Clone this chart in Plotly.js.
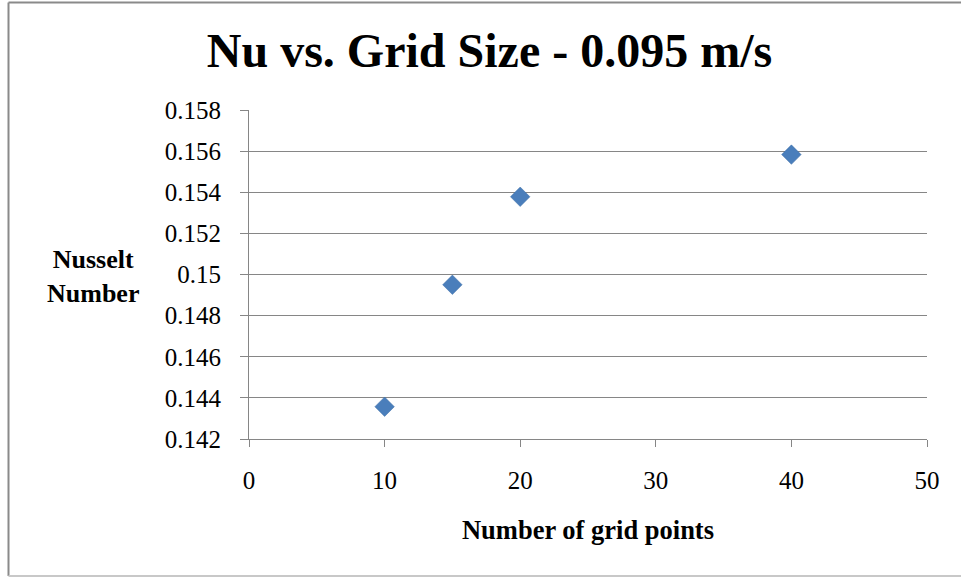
<!DOCTYPE html>
<html>
<head>
<meta charset="utf-8">
<script src="https://cdn.plot.ly/plotly-3.0.1.min.js"></script>
<style>html,body{margin:0;padding:0;background:#fff;}#chart{width:961px;height:577px;}</style>
</head>
<body>
<div id="chart"></div>
<script>
const gridPoints = [10, 15, 20, 40];
const nusselt = [0.14357, 0.14950, 0.15378, 0.15583];
const yTicks = [0.142, 0.144, 0.146, 0.148, 0.15, 0.152, 0.154, 0.156, 0.158];
const yTickText = ['0.142', '0.144', '0.146', '0.148', '0.15', '0.152', '0.154', '0.156', '0.158'];
const xTicks = [0, 10, 20, 30, 40, 50];
const chartTitle = 'Nu vs. Grid Size - 0.095 m/s';
const xTitle = 'Number of grid points';
const yTitle = 'Nusselt<br>Number';

const serif = 'Liberation Serif';
const axisGray = '#868686';

const trace = {
  x: gridPoints, y: nusselt, type: 'scatter', mode: 'markers',
  marker: {symbol: 'diamond', size: 15, color: '#4A7EBB', line: {color: '#3F6FA6', width: 0.5}},
  showlegend: false, hoverinfo: 'x+y'
};

const L = 249, R = 927, T = 110, B = 439, W = 961, H = 577;
const px = v => (v - L) / (R - L);
const py = v => (B - v) / (B - T);

const layout = {
  width: W, height: H,
  paper_bgcolor: '#ffffff', plot_bgcolor: '#ffffff',
  margin: {l: L, r: W - R, t: T, b: H - B, pad: 0},
  font: {family: serif, color: '#000'},
  title: {text: '<b>' + chartTitle + '</b>', font: {family: serif, size: 48, color: '#000'},
          x: 489.5 / W, xref: 'container', xanchor: 'center', y: 1 - 50 / H, yref: 'container', yanchor: 'middle'},
  xaxis: {
    range: [0, 50], tickvals: xTicks, ticktext: xTicks.map(String),
    showgrid: false, zeroline: false, showline: true, linecolor: axisGray, linewidth: 1,
    ticks: 'outside', ticklen: 7, tickcolor: axisGray, tickwidth: 1,
    tickfont: {family: serif, size: 25, color: '#000'}, ticklabelstandoff: 12,
    title: {text: '<b>' + xTitle + '</b>', font: {family: serif, size: 26.5, color: '#000'}, standoff: 27},
    fixedrange: true
  },
  yaxis: {
    range: [0.142, 0.158], tickvals: yTicks, ticktext: yTickText,
    showgrid: true, gridcolor: axisGray, gridwidth: 1, zeroline: false,
    showline: true, linecolor: axisGray, linewidth: 1,
    ticks: 'outside', ticklen: 8, tickcolor: axisGray, tickwidth: 1,
    tickfont: {family: serif, size: 25, color: '#000'}, ticklabelstandoff: 14,
    fixedrange: true
  },
  annotations: [{
    text: '<b>' + yTitle + '</b>', xref: 'paper', yref: 'paper',
    x: px(93), y: py(276), xanchor: 'center', yanchor: 'middle', showarrow: false,
    font: {family: serif, size: 26, color: '#000'}, align: 'center'
  }],
  shapes: [
    {type: 'line', xref: 'paper', yref: 'paper', x0: px(8.5), x1: px(8.5), y0: py(2.5), y1: py(576), line: {color: '#8a8a8a', width: 2}},
    {type: 'line', xref: 'paper', yref: 'paper', x0: px(8.5), x1: px(970), y0: py(2.5), y1: py(2.5), line: {color: '#8a8a8a', width: 2}},
    {type: 'line', xref: 'paper', yref: 'paper', x0: px(8.5), x1: px(970), y0: py(576), y1: py(576), line: {color: '#c8c8c8', width: 2}}
  ]
};

Plotly.newPlot('chart', [trace], layout, {displayModeBar: false, staticPlot: true});
</script>
</body>
</html>
